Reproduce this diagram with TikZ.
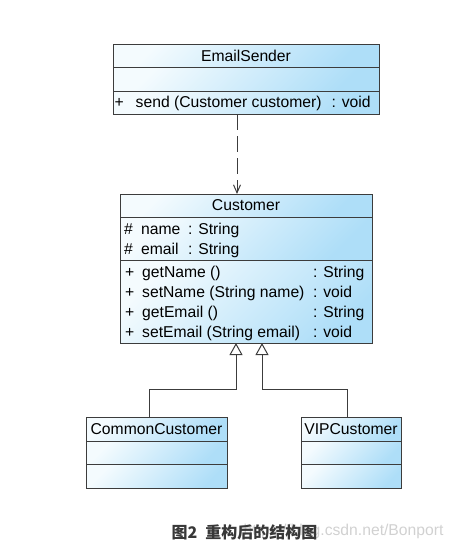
\documentclass[tikz,border=0pt]{standalone}
\usepackage{fontspec}
\setmainfont{Liberation Sans}
\newfontfamily\cjk{Noto Sans CJK SC}
\usetikzlibrary{arrows.meta, positioning}
\definecolor{umlLight}{HTML}{F4FBFE}
\definecolor{umlBlue}{HTML}{AEDEF8}
\definecolor{umlLine}{HTML}{3C3C3C}
\tikzset{
  compart/.style 2 args = {draw = umlLine, line width = 1pt, left color = umlLight, right color = umlBlue,
    shading angle = 45, minimum width = #1, minimum height = #2, inner sep = 0pt, outer sep = 0pt},
  members/.style = {anchor = west, inner sep = 0pt},
  every node/.append style = {font = \fontsize{15.7}{20}\selectfont},
  depend/.style = {umlLine, line width = 1pt, dash pattern = on 16pt off 6pt, -{Straight Barb[length=8pt, width=7pt]}},
  inherit/.style = {umlLine, line width = 1pt, -{Triangle[length=12pt, width=13pt, fill=white]}}
}

\begin{document}
\begin{tikzpicture}[x = 1pt, y = -1pt]
\useasboundingbox (0,0) rectangle (457,549);
% EmailSender
\node [compart = {266pt}{23pt}] (es-head) at (246,55.5) {EmailSender};
\node [compart = {266pt}{24pt}, below = 0pt of es-head] (es-attr) {};
\node [compart = {266pt}{23pt}, below = 0pt of es-attr] (es-ops) {};
\node [members] (es-ops-txt) at ([xshift=1.5pt, yshift=-1pt]es-ops.west)
  {\begin{tabular}{@{}p{21pt}@{}p{196pt}@{}l@{}}+ & send (Customer customer) & : void\end{tabular}};
% Customer
\node [compart = {252pt}{23pt}] (cust-head) at (246,205.5) {Customer};
\node [compart = {252pt}{43pt}, below = 0pt of cust-head] (cust-attr) {};
\node [compart = {252pt}{83pt}, below = 0pt of cust-attr] (cust-ops) {};
\node [members] (cust-attr-txt) at ([xshift=4pt, yshift=-1.5pt]cust-attr.west)
  {\begin{tabular}{@{}p{17pt}@{}p{47pt}@{}l@{}}
    \# & name & : String\\
    \# & email & : String
  \end{tabular}};
\node [members] (cust-ops-txt) at ([xshift=5pt, yshift=-1.5pt]cust-ops.west)
  {\begin{tabular}{@{}p{17pt}@{}p{171pt}@{}l@{}}
    + & getName () & : String\\
    + & setName (String name) & : void\\
    + & getEmail () & : String\\
    + & setEmail (String email) & : void
  \end{tabular}};
% subclasses
\node [compart = {141pt}{24pt}] (cc-head) at (156.5,429) {CommonCustomer};
\node [compart = {141pt}{23pt}, below = 0pt of cc-head] (cc-attr) {};
\node [compart = {141pt}{24pt}, below = 0pt of cc-attr] (cc-ops) {};
\node [compart = {100pt}{24pt}] (vip-head) at (351,429) {VIPCustomer};
\node [compart = {100pt}{23pt}, below = 0pt of vip-head] (vip-attr) {};
\node [compart = {100pt}{24pt}, below = 0pt of vip-attr] (vip-ops) {};
% relations
\draw [depend] ([xshift=-9pt]es-ops.south) -- ([xshift=-9pt]cust-head.north);
\draw [inherit] ([xshift=-7.5pt]cc-head.north) -- ++(0,-28) -| ([xshift=-10pt]cust-ops.south);
\draw [inherit] ([xshift=-4pt]vip-head.north) -- ++(0,-28) -| ([xshift=16pt]cust-ops.south);
% caption
\node [anchor = east, text = black!18] (mark) at (447,531) {https://blog.csdn.net/Bonport};
\node [font = \cjk\bfseries\fontsize{16}{18}\selectfont, text = black!78] (caption) at (244.5,532) {图2\enspace 重构后的结构图};
\end{tikzpicture}
\end{document}
